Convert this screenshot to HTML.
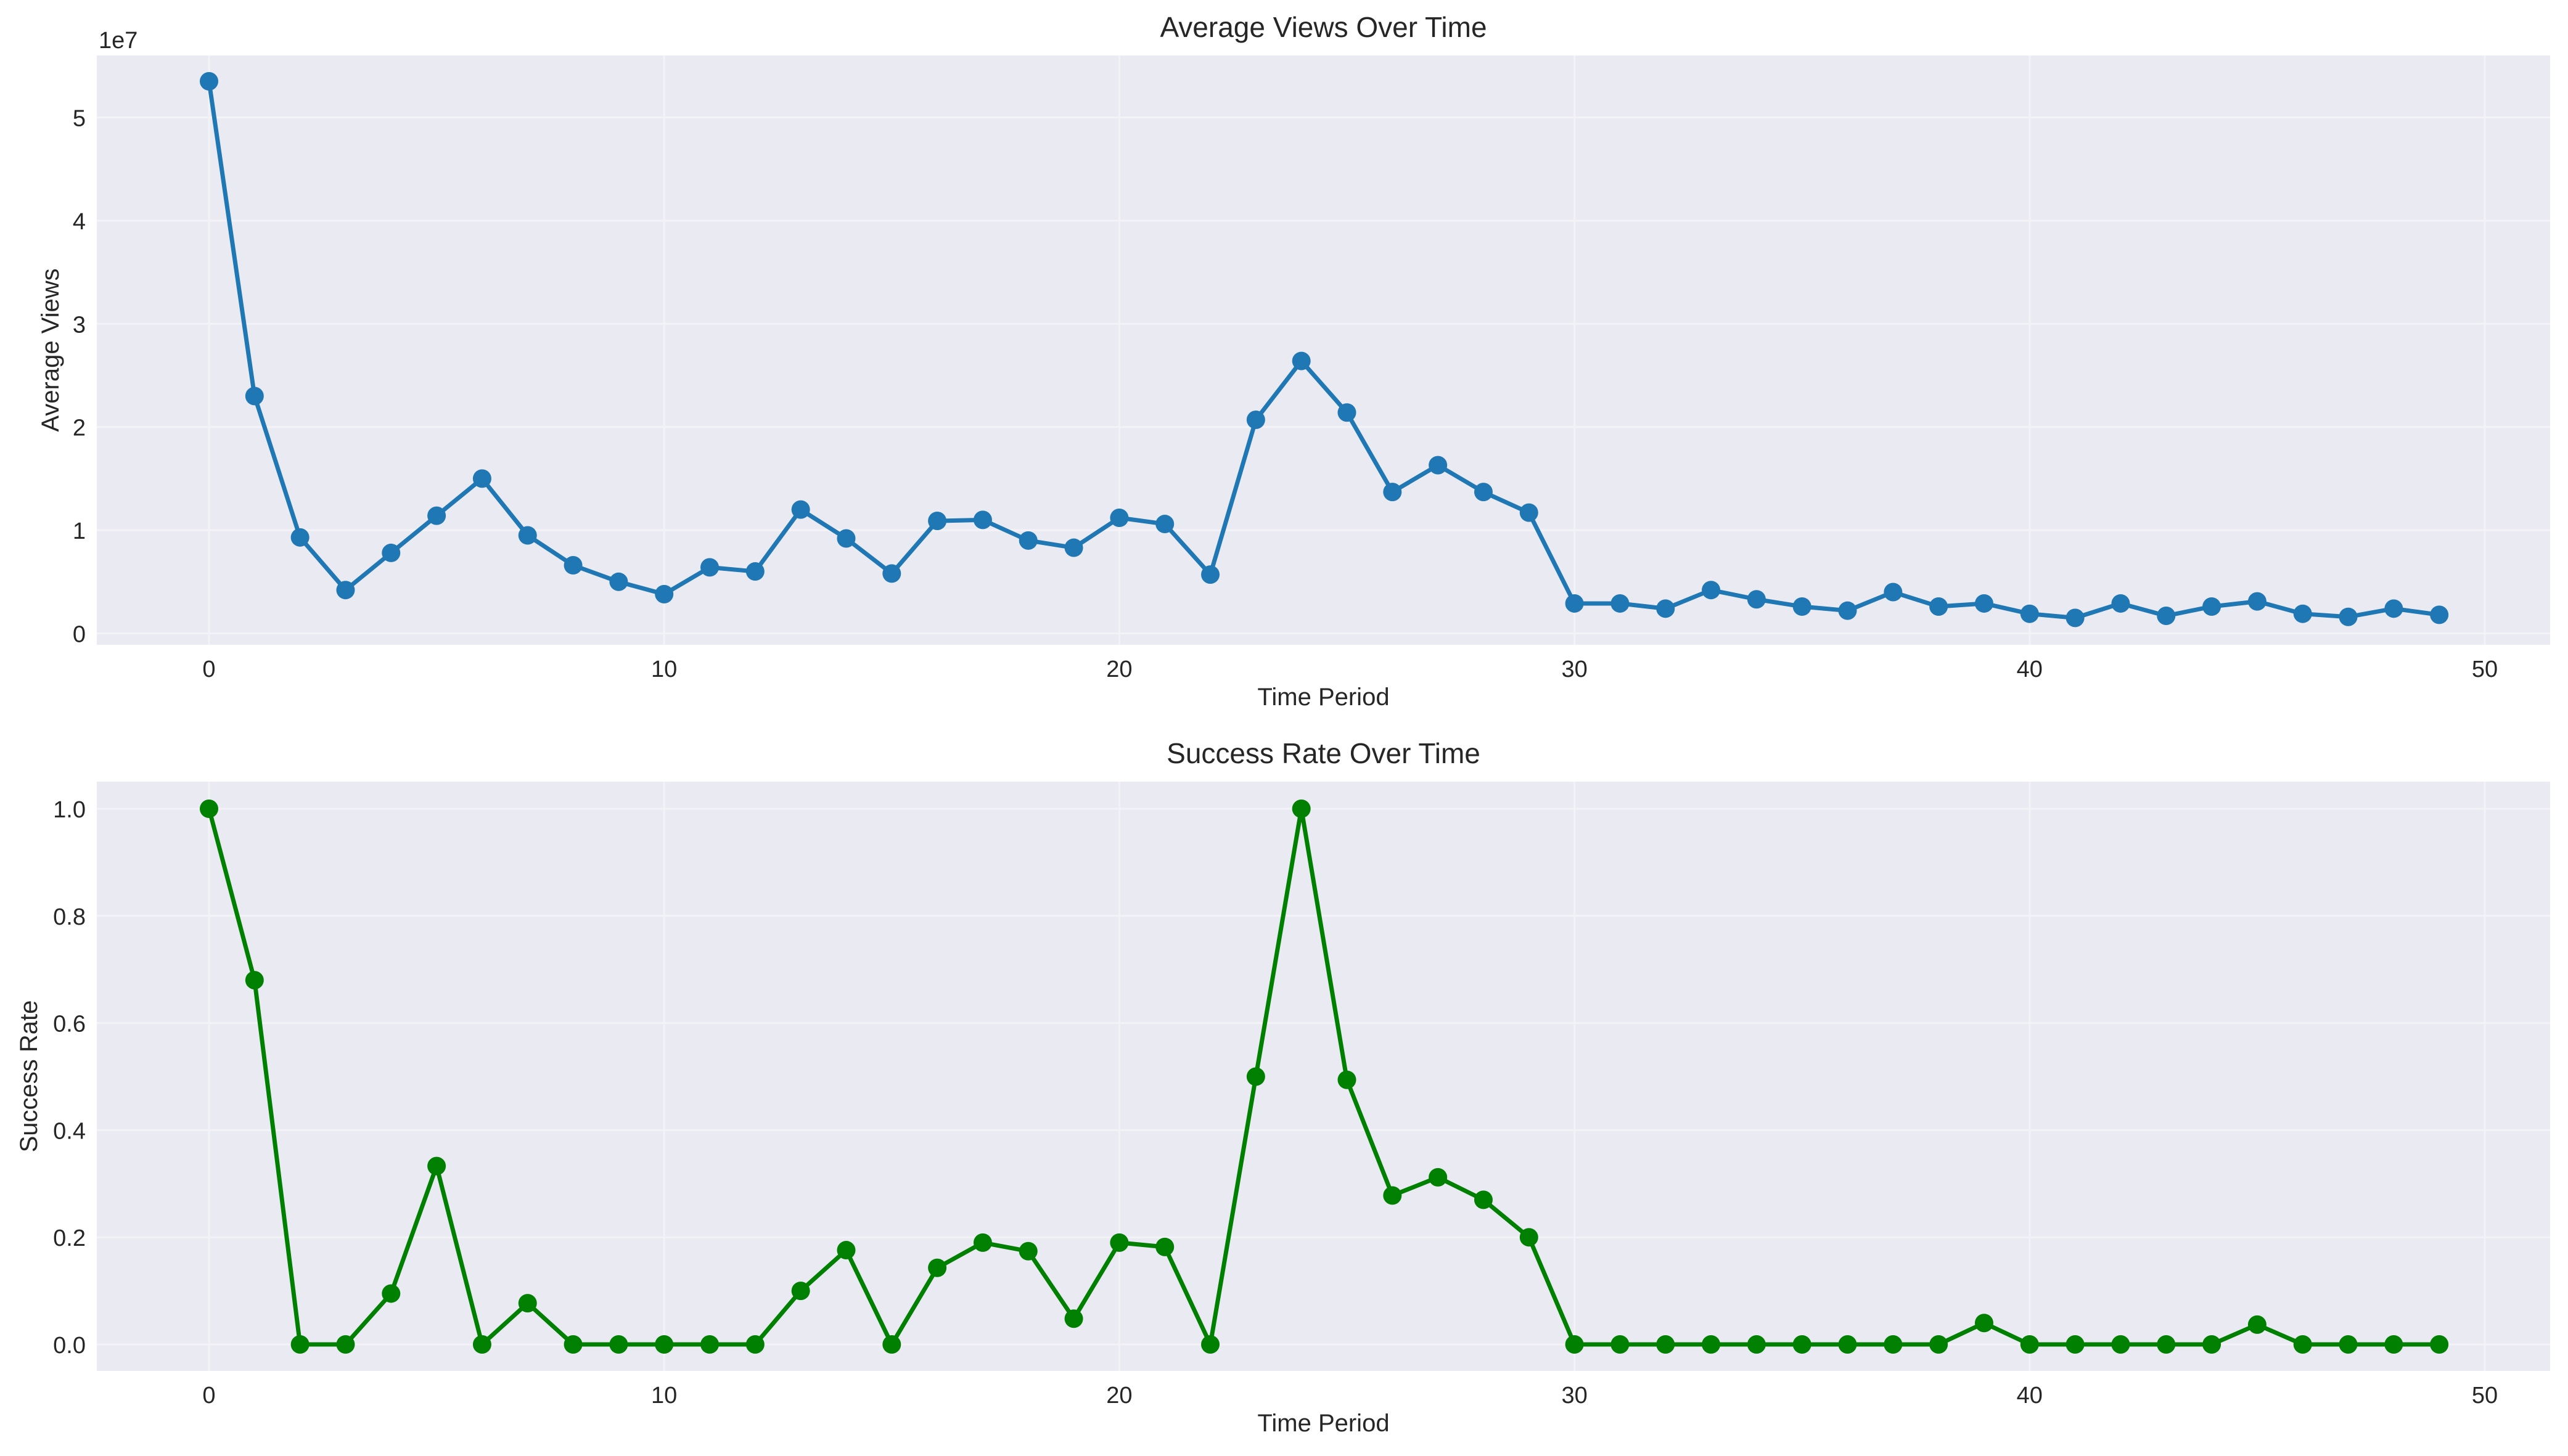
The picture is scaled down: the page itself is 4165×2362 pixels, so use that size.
<!DOCTYPE html>
<html><head><meta charset="utf-8"><style>
html,body{margin:0;padding:0;background:#fff;}
svg{display:block;font-family:"Liberation Sans",sans-serif;}
</style></head><body>
<svg id="chart" width="4165" height="2362" viewBox="0 0 4165 2362" xmlns="http://www.w3.org/2000/svg">
<rect width="4165" height="2362" fill="#fff"/>
</svg>
<script>
const periods = Array.from({length:50},(_,i)=>i);
const avgViews = [5.35,2.3,0.93,0.42,0.78,1.14,1.5,0.95,0.66,0.5,0.38,0.64,0.6,1.2,0.92,0.58,1.09,1.1,0.9,0.83,1.12,1.06,0.57,2.07,2.64,2.14,1.37,1.63,1.37,1.17,0.29,0.29,0.24,0.42,0.33,0.26,0.22,0.4,0.26,0.29,0.19,0.15,0.29,0.17,0.26,0.31,0.19,0.16,0.24,0.18];
const successRate = [1.0,0.68,0,0,0.095,0.333,0,0.077,0,0,0,0,0,0.1,0.176,0,0.143,0.19,0.174,0.048,0.19,0.182,0,0.5,1.0,0.494,0.278,0.312,0.27,0.2,0,0,0,0,0,0,0,0,0,0.04,0,0,0,0,0,0.037,0,0,0,0];
const xTicks = [0,10,20,30,40,50];
const viewTicks = [0,1,2,3,4,5];
const rateTicks = [0,0.2,0.4,0.6,0.8,1.0];

const NS="http://www.w3.org/2000/svg";
const svg=document.getElementById('chart');
function el(tag,attrs,parent){const e=document.createElementNS(NS,tag);for(const k in attrs)e.setAttribute(k,attrs[k]);(parent||svg).appendChild(e);return e;}
const L=157,R=4136;
const xs=v=>339+v*(4030-339)/50;

function panel(cfg){
  const g=el('g',{});
  
  
  const ys=v=>cfg.y0+(v-0)*(cfg.y1px-cfg.y0)/cfg.y1val;
  const bg=el('rect',{x:L,y:cfg.top,width:R-L,height:cfg.bot-cfg.top,fill:'#eaeaf2'},g);
  
  
  xTicks.forEach(t=>{
    el('line',{x1:xs(t),x2:xs(t),y1:cfg.top,y2:cfg.bot,stroke:'#f3f3f7','stroke-width':3},g);
    const tx=el('text',{x:xs(t),y:cfg.bot+52,'font-size':38,'text-anchor':'middle',fill:'#262626'},g);
    tx.textContent=t;
    
    
  });
  cfg.yTicks.forEach(t=>{
    el('line',{x1:L,x2:R,y1:ys(t),y2:ys(t),stroke:'#f3f3f7','stroke-width':3},g);
    const tx=el('text',{x:L-18,y:ys(t)+14,'font-size':38,'text-anchor':'end',fill:'#262626'},g);
    tx.textContent=cfg.fmt(t);
    
    
  });
  const pts=cfg.data.map((v,i)=>xs(periods[i])+','+ys(v)).join(' ');
  const pl=el('polyline',{points:pts,fill:'none',stroke:cfg.color,'stroke-width':7,'stroke-linejoin':'round'},g);
  
  
  cfg.data.forEach((v,i)=>{
    const c=el('circle',{cx:xs(periods[i]),cy:ys(v),r:15,fill:cfg.color},g);
    
    
  });
  const ti=el('text',{x:(L+R)/2,y:cfg.top-30,'font-size':46,'text-anchor':'middle',fill:'#262626'},g);
  ti.textContent=cfg.title;
  
  
  const xl=el('text',{x:(L+R)/2,y:cfg.bot+98,'font-size':40,'text-anchor':'middle',fill:'#262626'},g);
  xl.textContent='Time Period';
  
  
  const cy=(cfg.top+cfg.bot)/2;
  const yl=el('text',{x:cfg.ylx,y:cy,'font-size':40,'text-anchor':'middle',fill:'#262626',transform:`rotate(-90 ${cfg.ylx} ${cy})`},g);
  yl.textContent=cfg.ylabel;
  
  
  return g;
}
panel({name:'views-panel',top:90,bot:1046,y0:1027.5,y1px:190.5,y1val:5,yTicks:viewTicks,fmt:t=>t,data:avgViews,color:'#1f77b4',series:'avg-views',title:'Average Views Over Time',ylabel:'Average Views',ylx:95});
const ex=el('text',{x:160,y:78,'font-size':38,fill:'#262626'});
ex.textContent='1e7';


panel({name:'success-panel',top:1268,bot:2224,y0:2181,y1px:1312,y1val:1,yTicks:rateTicks,fmt:t=>t.toFixed(1),data:successRate,color:'#008000',series:'success-rate',title:'Success Rate Over Time',ylabel:'Success Rate',ylx:60});
</script>
</body></html>
